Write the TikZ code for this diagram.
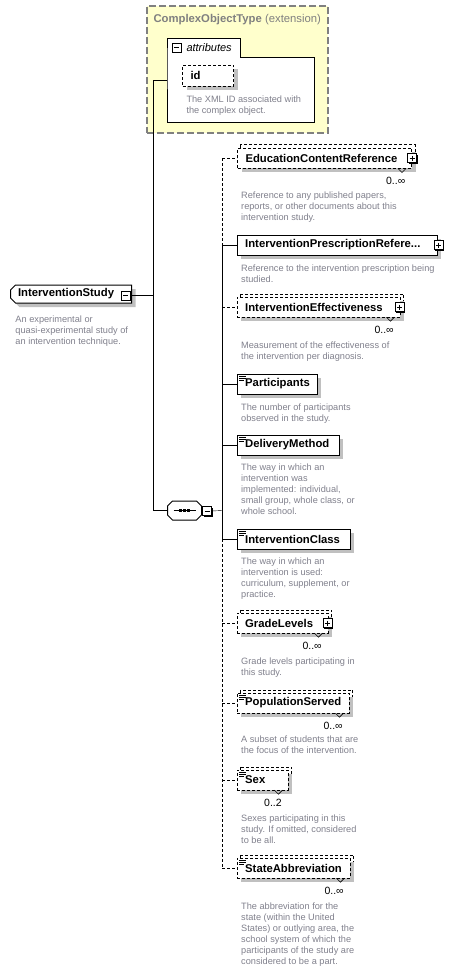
\documentclass[tikz,border=0pt]{standalone}
\usepackage{fontspec}
\setmainfont{Liberation Sans}
\usetikzlibrary{shapes.misc,shadows,calc,backgrounds}
\definecolor{desctxt}{RGB}{128,128,140}
\definecolor{shd}{RGB}{192,192,192}
\definecolor{yel}{RGB}{255,255,204}
\definecolor{ttl}{RGB}{128,128,128}
\newcommand{\efont}{\fontsize{11.3}{13}\selectfont\bfseries}
\newcommand{\dfont}{\fontsize{9.2}{11}\selectfont}
\newcommand{\mfont}{\fontsize{10.5}{12}\selectfont}
\newcommand{\simpleicon}[1]{\draw[line width=0.7pt] ($(#1.north west)+(2,2.5)$) -- +(7,0) ($(#1.north west)+(2,4.5)$) -- +(7,0) ($(#1.north west)+(2,6.5)$) -- +(5,0);}
\newcommand{\multiback}[1]{\begin{pgfonlayer}{background}\draw[opt, fill=white] ($(#1.north west)+(3,-3)$) rectangle ($(#1.south east)+(3,-3)$);\end{pgfonlayer}}
\newcommand{\notch}[1]{\draw[line width=0.6pt] ($(#1.south east)+(-14,0)$) -- ++(4,4) -- ++(4,-4);}
\begin{document}
\begin{tikzpicture}[x=1pt,y=-1pt,line width=1pt,
  opt/.style={dash pattern=on 3pt off 2pt},
  shad/.style={drop shadow={shadow xshift=4pt, shadow yshift=-4pt, fill=shd, opacity=1}},
  elem/.style={draw, fill=white, anchor=west, minimum height=20pt, inner xsep=8pt, inner ysep=0pt, align=left, font=\efont, shad},
  desc/.style={anchor=north west, inner sep=0pt, align=left, text=desctxt, font=\dfont},
  mult/.style={anchor=east, inner sep=0pt, font=\mfont},
  pm/.style={draw, fill=white, minimum size=9pt, inner sep=0pt, line width=0.8pt, drop shadow={shadow xshift=1pt, shadow yshift=-1pt, fill=black, opacity=1}},
  plusbox/.style={pm, path picture={\draw[line width=0.8pt] ($(path picture bounding box.center)+(-2.5,0)$) -- +(5,0) ($(path picture bounding box.center)+(0,-2.5)$) -- +(0,5);}},
  minusbox/.style={pm, path picture={\draw[line width=0.8pt] ($(path picture bounding box.center)+(-2.5,0)$) -- +(5,0);}},
  isbox/.style={chamfered rectangle, chamfered rectangle corners={north west,south west}, chamfered rectangle xsep=2.5pt, chamfered rectangle ysep=2.5pt, draw, fill=white, anchor=west, minimum width=116pt, minimum height=18pt, text width=106pt, inner xsep=5pt, inner ysep=0pt, align=left, font=\efont, shad},
  seqbox/.style={anchor=west, minimum width=34pt, minimum height=19pt, inner sep=0pt}
]
\useasboundingbox (0,0) rectangle (466,972);

% extension box
\node[draw=ttl, fill=yel, line width=1.5pt, dash pattern=on 7pt off 3pt, minimum width=181pt, minimum height=127pt, anchor=north west, inner sep=0pt] (ext) at (146,5) {};
\node[anchor=base west, inner sep=0pt, text=ttl, font=\fontsize{11.3}{13}\selectfont] (extt) at (153,22.5) {{\bfseries ComplexObjectType} (extension)};
\node[fill=white, anchor=north west, minimum width=146pt, minimum height=64pt, inner sep=0pt] (attr) at (167,57) {};
\draw[fill=white] (attr.south west) -- (attr.north west) -- ++(0,-19) -- ++(73,0) -- ++(0,19) -- (attr.north east) -- (attr.south east) -- cycle;
\node[minusbox] (attrpm) at (176.5,47.5) {};
\node[anchor=west, inner sep=0pt, font=\fontsize{11}{13}\selectfont\itshape] (attrt) at (186,47.5) {attributes};
\node[elem, opt, minimum width=51pt, minimum height=21pt, text width=35pt] (id) at (182,75.5) {id};
\node[desc] (idd) at (186,95) {The XML ID associated with\\the complex object.};

% root
\node[isbox] (is) at (10,294) {InterventionStudy};
\node[minusbox] (ispm) at (125.5,295.5) {};
\node[desc] (isd) at (15,315) {An experimental or\\quasi-experimental study of\\an intervention technique.};

% sequence
\node[seqbox] (seq) at (167,510.5) {};
\fill[shd, shift={(4,4)}] ($(seq.center)+(-17,-4.5)$) -- ($(seq.center)+(-12,-9.5)$) -- ($(seq.center)+(12,-9.5)$) -- ($(seq.center)+(17,-4.5)$) -- ($(seq.center)+(17,4.5)$) -- ($(seq.center)+(12,9.5)$) -- ($(seq.center)+(-12,9.5)$) -- ($(seq.center)+(-17,4.5)$) -- cycle;
\draw[fill=white] ($(seq.center)+(-17,-4.5)$) -- ($(seq.center)+(-12,-9.5)$) -- ($(seq.center)+(12,-9.5)$) -- ($(seq.center)+(17,-4.5)$) -- ($(seq.center)+(17,4.5)$) -- ($(seq.center)+(12,9.5)$) -- ($(seq.center)+(-12,9.5)$) -- ($(seq.center)+(-17,4.5)$) -- cycle;
\draw[line width=0.8pt] ($(seq.center)+(-11,0)$) -- ($(seq.center)+(11,0)$);
\foreach \dx in {-4,0,4} \fill ($(seq.center)+(\dx-1.2,-1.2)$) rectangle ($(seq.center)+(\dx+1.2,1.2)$);
\node[minusbox] (seqpm) at (207,511) {};

% children
\node[elem, opt, minimum width=174pt, text width=158pt] (ecr) at (237,158) {EducationContentReference};
\multiback{ecr}
\node[plusbox] (ecrpm) at (ecr.east) {};
\node[mult] (ecrm) at ($(ecr.south east)+(-6.5,12.5)$) {0..∞};
\notch{ecr}
\node[desc] (ecrd) at (241,192) {Reference to any published papers,\\reports, or other documents about this\\intervention study.};

\node[elem, minimum width=200pt, text width=184pt] (ipr) at (237,245) {InterventionPrescriptionRefere...};
\node[plusbox] (iprpm) at ($(ipr.east)+(1,0)$) {};
\node[desc] (iprd) at (241,265) {Reference to the intervention prescription being\\studied.};

\node[elem, opt, minimum width=163pt, text width=147pt] (ie) at (237,307) {InterventionEffectiveness};
\multiback{ie}
\node[plusbox] (iepm) at ($(ie.east)+(-1,0)$) {};
\node[mult] (iem) at ($(ie.south east)+(-6.5,12.5)$) {0..∞};
\notch{ie}
\node[desc] (ied) at (241,342) {Measurement of the effectiveness of\\the intervention per diagnosis.};

\node[elem, minimum width=80pt, text width=64pt] (part) at (237,384) {Participants};
\simpleicon{part}
\node[desc] (partd) at (241,404) {The number of participants\\observed in the study.};

\node[elem, minimum width=102pt, text width=86pt] (dm) at (237,445) {DeliveryMethod};
\simpleicon{dm}
\node[desc] (dmd) at (241,464) {The way in which an\\intervention was\\implemented: individual,\\small group, whole class, or\\whole school.};

\node[elem, minimum width=113pt, text width=97pt] (ic) at (237,539) {InterventionClass};
\simpleicon{ic}
\node[desc] (icd) at (241,558) {The way in which an\\intervention is used:\\curriculum, supplement, or\\practice.};

\node[elem, opt, minimum width=91pt, text width=75pt] (gl) at (237,623) {GradeLevels};
\multiback{gl}
\node[plusbox] (glpm) at ($(gl.east)+(-1,0)$) {};
\node[mult] (glm) at ($(gl.south east)+(-6.5,12.5)$) {0..∞};
\notch{gl}
\node[desc] (gld) at (241,658) {Grade levels participating in\\this study.};

\node[elem, opt, minimum width=112pt, text width=96pt] (ps) at (237,703) {PopulationServed};
\multiback{ps}
\simpleicon{ps}
\node[mult] (psm) at ($(ps.south east)+(-6.5,12.5)$) {0..∞};
\notch{ps}
\node[desc] (psd) at (241,736) {A subset of students that are\\the focus of the intervention.};

\node[elem, opt, minimum width=51pt, text width=35pt] (sex) at (237,780) {Sex};
\multiback{sex}
\simpleicon{sex}
\node[mult] (sexm) at ($(sex.south east)+(-6.5,12.5)$) {0..2};
\notch{sex}
\node[desc] (sexd) at (241,815) {Sexes participating in this\\study. If omitted, considered\\to be all.};

\node[elem, opt, minimum width=113pt, text width=97pt] (sa) at (237,868) {StateAbbreviation};
\multiback{sa}
\simpleicon{sa}
\node[mult] (sam) at ($(sa.south east)+(-6.5,12.5)$) {0..∞};
\notch{sa}
\node[desc] (sad) at (241,903) {The abbreviation for the\\state (within the United\\States) or outlying area, the\\school system of which the\\participants of the study are\\considered to be a part.};

% connectors
\coordinate (jtop) at (153,80);
\coordinate (jseq) at (153,510.5);
\coordinate (jv) at (222,510.5);
\draw (jtop) -- (jtop -| attr.west);
\draw (jtop) -- (jseq);
\draw (ispm.east) -- (ispm.east -| jtop);
\draw (jseq) -- (seq.west);
\draw (seqpm.east) -- (jv);
\draw[opt] (ecr.west -| jv) -- (ipr.west -| jv);
\draw (ipr.west -| jv) -- (ic.west -| jv);
\draw[opt] (ic.west -| jv) -- (sa.west -| jv);
\foreach \n in {ipr,part,dm,ic} \draw (\n.west -| jv) -- (\n.west);
\foreach \n in {ecr,ie,gl,ps,sex,sa} \draw[opt] (\n.west -| jv) -- (\n.west);
\end{tikzpicture}
\end{document}
